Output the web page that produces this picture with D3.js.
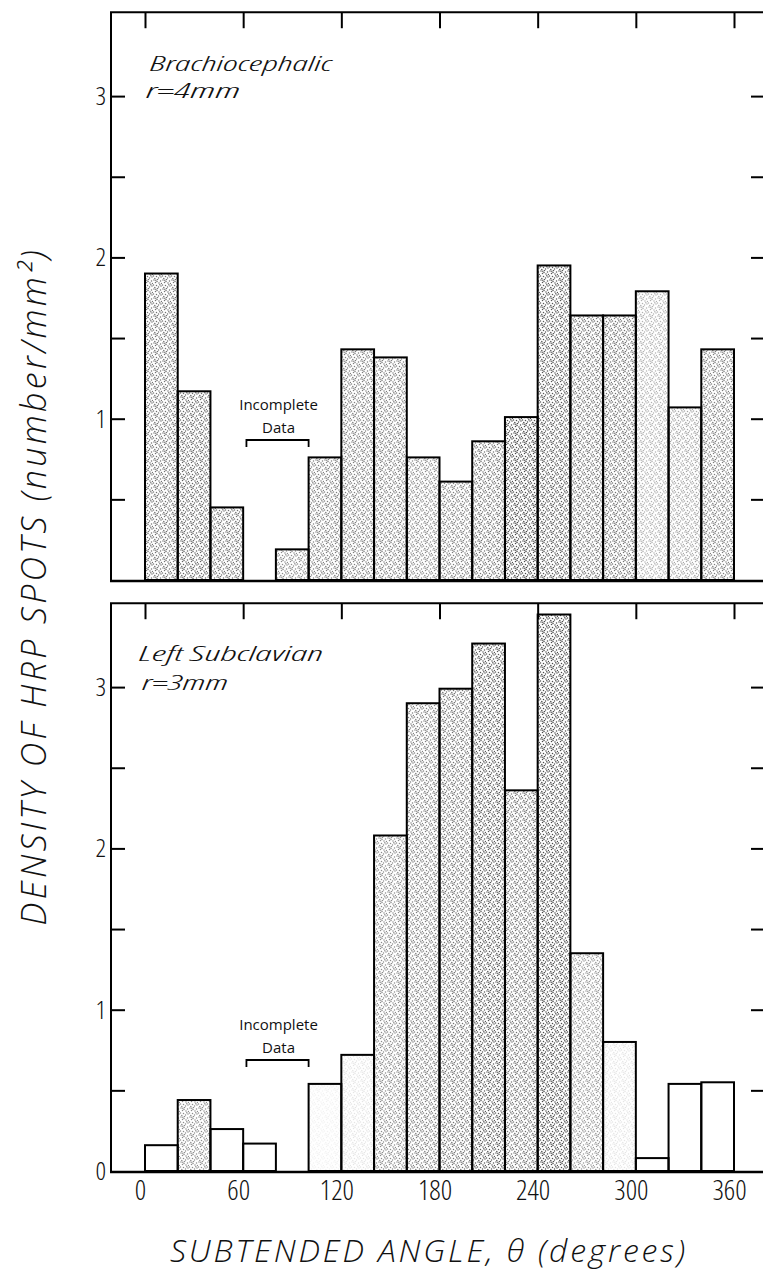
<!DOCTYPE html>
<html><head><meta charset="utf-8">
<script src="https://cdn.jsdelivr.net/npm/d3@7/dist/d3.min.js"></script>
<style>
html,body{margin:0;padding:0;background:#fff;}
svg{display:block;}
text{font-family:"Open Sans","DejaVu Sans",sans-serif;font-stretch:87.5%;font-weight:300;fill:#111;}
text.inc{font-stretch:100%;font-weight:400;}
text.title{font-stretch:100%;font-weight:300;}
</style></head><body>
<svg id="chart" width="763" height="1277"></svg>
<script>
// ---- data ----
const binStarts = [0,20,40,60,80,100,120,140,160,180,200,220,240,260,280,300,320,340];
const binWidth = 20;
const brachioValues = [1.90,1.17,0.45,null,0.19,0.76,1.43,1.38,0.76,0.61,0.86,1.01,1.95,1.64,1.64,1.79,1.07,1.43];
const subclavianValues = [0.16,0.44,0.26,0.17,null,0.54,0.72,2.08,2.90,2.99,3.27,2.36,3.45,1.35,0.80,0.08,0.54,0.55];
const brachioShade = [0.55,0.6,0.55,0,0.45,0.5,0.5,0.5,0.45,0.5,0.55,0.7,0.65,0.55,0.55,0.3,0.35,0.5];
const subclavianShade = [0,0.45,0,0,0,0.05,0.1,0.45,0.5,0.55,0.65,0.55,0.7,0.4,0.1,0,0,0];
const xTickValues = [0,60,120,180,240,300,360];
const yTickValues = [0.5,1,1.5,2,2.5,3];
const topYLabels = [1,2,3];
const bottomYLabels = [0,1,2,3];
const incompleteRange = [62,100];

// ---- layout ----
const svg = d3.select("#chart");
const frameLeft = 111, frameRight = 766;
const x = d3.scaleLinear().domain([0,360]).range([145,734]);

// stipple pattern
const defs = svg.append("defs");
const pat = defs.append("pattern").attr("id","stip").attr("patternUnits","userSpaceOnUse")
  .attr("width",9).attr("height",9);
const dots = [[1,1],[4.5,0.5],[7.5,2],[2.5,3.5],[6,4],[0.5,6],[3.5,6.5],[8,7],[5.5,8],[1.8,8.5],[6.8,5.8],[4,2.5],[8.5,4.5],[2.8,1.2]];
pat.selectAll("circle").data(dots).join("circle")
  .attr("cx",d=>d[0]).attr("cy",d=>d[1]).attr("r",0.75).attr("fill","#000");

function panel(cfg){
  const g = svg.append("g");
  const y = d3.scaleLinear().domain([0,1]).range([cfg.y0, cfg.y0 - cfg.unit]);
  const top = y(3.52);
  const data = binStarts.map((s,i)=>({s, v:cfg.values[i], shade:cfg.shade[i]})).filter(d=>d.v!=null);

  const bars = g.append("g");
  const place = sel => sel.attr("x",d=>x(d.s)).attr("width",d=>x(d.s+binWidth)-x(d.s))
    .attr("y",d=>y(d.v)).attr("height",d=>y(0)-y(d.v));
  bars.selectAll("rect.bg").data(data).join("rect").attr("class","bg").call(place).attr("fill","#fff");
  bars.selectAll("rect.st").data(data).join("rect").attr("class","st").call(place)
    .attr("fill","url(#stip)").attr("fill-opacity",d=>d.shade);
  bars.selectAll("rect.ol").data(data).join("rect").attr("class","ol").call(place)
    .attr("fill","none").attr("stroke","#000").attr("stroke-width",2);

  // frame
  g.append("line").attr("x1",frameLeft).attr("x2",frameLeft).attr("y1",top).attr("y2",cfg.y0+1)
    .attr("stroke","#000").attr("stroke-width",2);
  g.append("line").attr("x1",frameLeft-1).attr("x2",frameRight).attr("y1",top).attr("y2",top)
    .attr("stroke","#000").attr("stroke-width",2);
  g.append("line").attr("x1",frameLeft-1).attr("x2",frameRight).attr("y1",cfg.y0+1).attr("y2",cfg.y0+1)
    .attr("stroke","#000").attr("stroke-width",2.5);

  const la = g.append("g").attr("transform",`translate(${frameLeft},0)`)
    .call(d3.axisLeft(y).tickValues(yTickValues).tickSize(-14).tickFormat(""));
  la.select(".domain").remove();
  la.selectAll("line").attr("stroke","#000").attr("stroke-width",2);
  const ll = g.append("g").attr("transform",`translate(${frameLeft},0)`)
    .call(d3.axisLeft(y).tickValues(cfg.labels).tickSize(0).tickPadding(5).tickFormat(d3.format("d")));
  ll.select(".domain").remove();
  ll.selectAll("text").attr("font-size",26).attr("font-family",null).attr("fill","#111");
  const ra = g.append("g").attr("transform",`translate(${frameRight},0)`)
    .call(d3.axisRight(y).tickValues(yTickValues).tickSize(-15).tickFormat(""));
  ra.select(".domain").remove();
  ra.selectAll("line").attr("stroke","#000").attr("stroke-width",2);
  const ta = g.append("g").attr("transform",`translate(0,${top})`)
    .call(d3.axisTop(x).tickValues(xTickValues.concat([420])).tickSize(-16).tickFormat(""));
  ta.select(".domain").remove();
  ta.selectAll("line").attr("stroke","#000").attr("stroke-width",2);

  g.append("text").attr("x",cfg.nameX).attr("y",cfg.nameY).attr("font-size",cfg.nameSize)
    .attr("font-style","italic").attr("textLength",cfg.nameLen).attr("lengthAdjust","spacingAndGlyphs").text(cfg.name);
  g.append("text").attr("x",cfg.rX).attr("y",cfg.rY).attr("font-size",cfg.nameSize)
    .attr("font-style","italic").attr("textLength",cfg.rLen).attr("lengthAdjust","spacingAndGlyphs").text(cfg.radius);

  const bx0 = x(incompleteRange[0]), bx1 = x(incompleteRange[1]);
  const cx = (bx0+bx1)/2 + 1;
  g.append("text").attr("class","inc").attr("x",cx).attr("y",cfg.incY).attr("text-anchor","middle")
    .attr("font-size",15).text("Incomplete");
  g.append("text").attr("class","inc").attr("x",cx).attr("y",cfg.incY+23).attr("text-anchor","middle")
    .attr("font-size",15).text("Data");
  g.append("path")
    .attr("d",`M${bx0},${cfg.incY+37} V${cfg.incY+30} H${bx1} V${cfg.incY+37}`)
    .attr("fill","none").attr("stroke","#000").attr("stroke-width",1.8);
  return y;
}

panel({y0:580, unit:161.3, values:brachioValues, shade:brachioShade, labels:topYLabels,
  name:"Brachiocephalic", radius:"r=4mm", nameX:150, nameY:71, rX:146, rY:98, nameSize:21,
  nameLen:182, rLen:94, incY:410});
panel({y0:1171, unit:161.3, values:subclavianValues, shade:subclavianShade, labels:bottomYLabels,
  name:"Left Subclavian", radius:"r=3mm", nameX:139, nameY:661, rX:142, rY:690, nameSize:21,
  nameLen:184, rLen:86, incY:1030});

const xa = svg.append("g").attr("transform","translate(-5,1172)")
  .call(d3.axisBottom(x).tickValues(xTickValues).tickSize(0).tickPadding(8));
xa.select(".domain").remove();
xa.selectAll("text").attr("font-size",28).attr("font-family",null).attr("fill","#111");

svg.append("text").attr("class","title").attr("x",170).attr("y",1262).attr("font-size",32).attr("font-style","italic")
  .attr("textLength",515).attr("lengthAdjust","spacing").text("SUBTENDED  ANGLE, θ (degrees)");
svg.append("text").attr("class","title").attr("transform","translate(46,588) rotate(-90)").attr("text-anchor","middle")
  .attr("font-size",34).attr("font-style","italic")
  .attr("textLength",675).attr("lengthAdjust","spacing").text("DENSITY OF HRP SPOTS (number/mm²)");
</script>
</body></html>
